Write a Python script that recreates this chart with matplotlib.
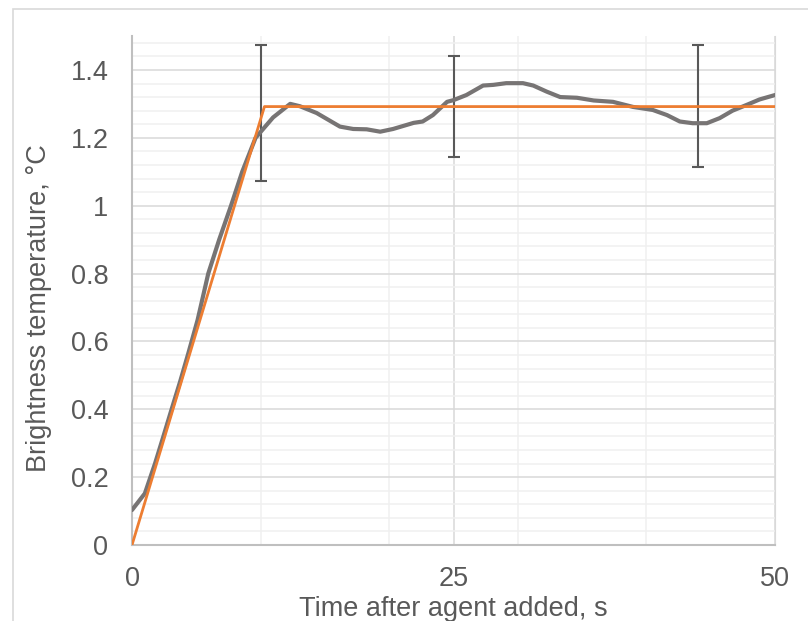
import matplotlib
matplotlib.use("Agg")
import matplotlib.pyplot as plt
from matplotlib.patches import Rectangle
from matplotlib.ticker import FuncFormatter

# measured brightness temperature (grey curve)
time_s = [0, 1.0, 1.79, 2.44, 3.08, 3.73, 4.38, 5.1, 5.93, 6.78, 7.70, 8.57, 9.61, 10.97,
          12.3, 13.06, 14.36, 16.17, 17.2, 18.25, 19.3, 20.3, 21.9, 22.6, 23.4, 24.5,
          25.0, 26.0, 27.3, 28.1, 29.1, 30.4, 31.2, 32.25, 33.3, 34.6, 35.9, 37.4, 38.96,
          40.5, 41.6, 42.6, 43.6, 44.7, 45.7, 46.7, 47.8, 48.8, 50.0]
temp_c = [0.103, 0.152, 0.24, 0.32, 0.40, 0.48, 0.565, 0.663, 0.80, 0.90, 1.0, 1.1, 1.2, 1.26,
          1.30, 1.293, 1.273, 1.233, 1.226, 1.225, 1.218, 1.226, 1.244, 1.248, 1.267, 1.306,
          1.311, 1.326, 1.354, 1.356, 1.361, 1.361, 1.354, 1.336, 1.32, 1.318, 1.31, 1.306, 1.291,
          1.282, 1.267, 1.248, 1.243, 1.243, 1.258, 1.28, 1.297, 1.313, 1.326]

# model fit (orange)
fit_t = [0, 10.3, 50]
fit_y = [0, 1.292, 1.292]

# error bars
err_t = [10, 25, 44]
err_y = [1.273, 1.2925, 1.293]
err_size = [0.2, 0.15, 0.18]

text_col = "#595959"
plt.rcParams["font.family"] = ["Liberation Sans", "DejaVu Sans"]

fig = plt.figure(figsize=(8.08, 6.21), dpi=100)
fig.patches.append(Rectangle((13 / 808, -0.1), 1.2, 1.1 - 9 / 621, transform=fig.transFigure,
                             fill=False, edgecolor="#d9d9d9", linewidth=1.2))
ax = fig.add_axes([132 / 808, 76 / 621, 643 / 808, 509 / 621])

ax.errorbar(err_t, err_y, yerr=err_size, fmt="none", ecolor=text_col, elinewidth=1.5,
            capsize=4.5, capthick=1.5, zorder=2)
ax.plot(time_s, temp_c, color="#777474", linewidth=3.0, zorder=3,
        solid_joinstyle="round", solid_capstyle="round")
ax.plot(fit_t, fit_y, color="#ed7d31", linewidth=2.0, zorder=4)

ax.set_xlim(0, 50)
ax.set_ylim(0, 1.5)
ax.set_xticks([0, 25, 50])
ax.set_xticks([10, 20, 30, 40], minor=True)
ax.set_yticks([0.2 * i for i in range(8)])
ax.set_yticks([0.04 * i for i in range(38)], minor=True)
ax.yaxis.set_major_formatter(FuncFormatter(lambda v, p: "%g" % round(v, 2)))
ax.tick_params(which="both", length=0, labelsize=19.5, labelcolor=text_col)
ax.tick_params(axis="x", pad=15)
ax.tick_params(axis="y", pad=17)

ax.grid(which="major", color="#d9d9d9", linewidth=1.1)
ax.grid(which="minor", color="#f0f0f0", linewidth=1.1)
ax.set_axisbelow(True)

ax.spines["top"].set_visible(False)
ax.spines["right"].set_color("#d9d9d9")
ax.spines["left"].set_color("#bfbfbf")
ax.spines["bottom"].set_color("#bfbfbf")
ax.spines["left"].set_linewidth(1.5)
ax.spines["bottom"].set_linewidth(1.5)

ax.set_xlabel("Time after agent added, s", fontsize=19.5, color=text_col, labelpad=3)
ax.set_ylabel("Brightness temperature, °C", fontsize=19.5, color=text_col)
ax.yaxis.set_label_coords(-0.124, 0.4647)

fig.savefig("out.png", dpi=100)
